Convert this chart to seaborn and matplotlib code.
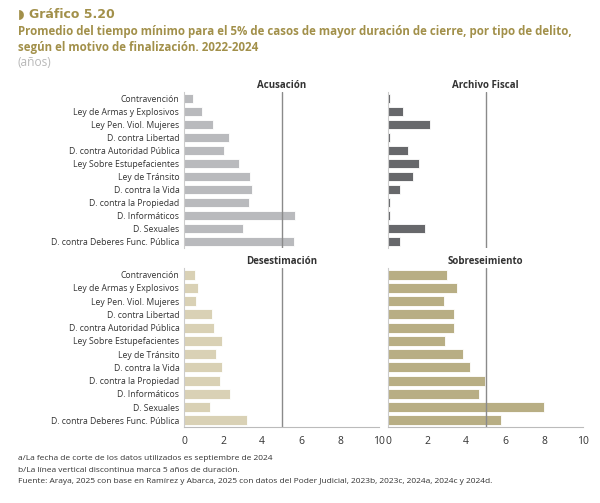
import numpy as np
import pandas as pd
import seaborn as sns
from matplotlib import pyplot as plt

delitos = ['Contravención', 'Ley de Armas y Explosivos', 'Ley Pen. Viol. Mujeres',
           'D. contra Libertad', 'D. contra Autoridad Pública', 'Ley Sobre Estupefacientes',
           'Ley de Tránsito', 'D. contra la Vida', 'D. contra la Propiedad',
           'D. Informáticos', 'D. Sexuales', 'D. contra Deberes Func. Pública']
acusacion = [0.45, 0.9, 1.5, 2.3, 2.05, 2.8, 3.35, 3.5, 3.3, 5.7, 3.0, 5.65]
archivo = [0.08, 0.77, 2.13, 0.08, 1.04, 1.6, 1.29, 0.61, 0.08, 0.08, 1.89, 0.58]
desestimacion = [0.53, 0.73, 0.63, 1.42, 1.52, 1.93, 1.62, 1.93, 1.86, 2.34, 1.31, 3.21]
sobreseimiento = [3.03, 3.52, 2.86, 3.38, 3.35, 2.89, 3.84, 4.2, 4.97, 4.68, 8.01, 5.8]

sns.set_style('white')
plt.rcParams['font.family'] = ['Open Sans', 'DejaVu Sans']

fig = plt.figure(figsize=(6, 5.03), dpi=100)
panels = [
    ('Acusación', acusacion, '#b9babd', [0.307, 0.507, 0.325, 0.31], True, False),
    ('Archivo Fiscal', archivo, '#67686b', [0.647, 0.507, 0.325, 0.31], False, False),
    ('Desestimación', desestimacion, '#d9d1b5', [0.307, 0.151, 0.325, 0.316], True, True),
    ('Sobreseimiento', sobreseimiento, '#b8ae84', [0.647, 0.151, 0.325, 0.316], False, True),
]
for name, vals, color, pos, show_y, show_x in panels:
    ax = fig.add_axes(pos)
    df = pd.DataFrame({'delito': delitos, 'valor': vals})
    sns.barplot(data=df, x='valor', y='delito', color=color, ax=ax, width=0.75,
                edgecolor='white', linewidth=0.6, saturation=1)
    ax.axvline(5, color='#8a8a8a', lw=1)
    ax.set_xlim(0, 10)
    ax.set_xlabel('')
    ax.set_ylabel('')
    ax.set_title(name, fontsize=7, fontweight='bold', color='#333333', pad=3)
    for s in ['top', 'right']:
        ax.spines[s].set_visible(False)
    ax.spines['left'].set_color('#cccccc')
    ax.spines['bottom'].set_color('#bbbbbb')
    ax.tick_params(axis='y', length=0, labelsize=6.2, colors='#333333')
    if not show_y:
        ax.set_yticklabels([])
    if show_x:
        ax.set_xticks([0, 2, 4, 6, 8, 10])
        ax.tick_params(axis='x', length=3, labelsize=7.5, colors='#333333', color='#bbbbbb')
    else:
        ax.set_xticks([])
        ax.spines['bottom'].set_visible(False)

fig.text(0.03, 0.965, '◗ Gráfico 5.20', fontsize=9, color='#a2904a', fontweight='bold',
         family=['DejaVu Sans'])
fig.text(0.03, 0.93, 'Promedio del tiempo mínimo para el 5% de casos de mayor duración de cierre, por tipo de delito,',
         fontsize=8.3, color='#a2904a', fontweight='bold')
fig.text(0.03, 0.898, 'según el motivo de finalización. 2022-2024', fontsize=8.3, color='#a2904a', fontweight='bold')
fig.text(0.03, 0.868, '(años)', fontsize=8.6, color='#b8b8b8')
fig.text(0.03, 0.085, 'a/La fecha de corte de los datos utilizados es septiembre de 2024', fontsize=6, color='#333333')
fig.text(0.03, 0.062, 'b/La línea vertical discontinua marca 5 años de duración.', fontsize=6, color='#333333')
fig.text(0.03, 0.039, 'Fuente: Araya, 2025 con base en Ramírez y Abarca, 2025 con datos del Poder Judicial, 2023b, 2023c, 2024a, 2024c y 2024d.',
         fontsize=6, color='#333333')

plt.savefig('out.png', dpi=100)
